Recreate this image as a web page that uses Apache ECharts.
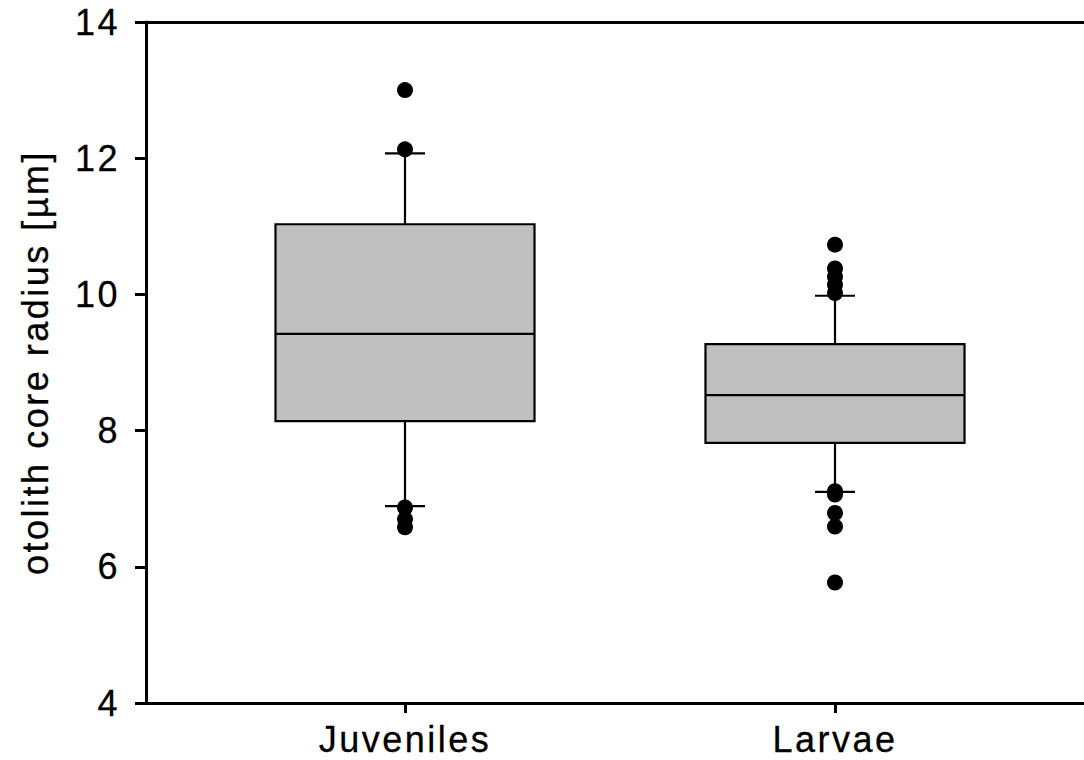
<!DOCTYPE html>
<html>
<head>
<meta charset="utf-8">
<script src="https://cdn.jsdelivr.net/npm/echarts@6/dist/echarts.min.js"></script>
<style>
  html, body { margin: 0; padding: 0; background: #fff; }
  #chart { width: 1084px; height: 760px; }
  /* slightly open letter spacing for all chart text */
  #chart text { letter-spacing: 2.5px; }
</style>
</head>
<body>
<div id="chart"></div>
<script>
// Groups on the category axis
const categories = ['Juveniles', 'Larvae'];

// Box statistics per group: [lower whisker, Q1, median, Q3, upper whisker]
const juvenilesBox = [6.89, 8.14, 9.42, 11.03, 12.07];
const larvaeBox = [7.10, 7.82, 8.52, 9.27, 9.98];

// Points drawn outside the whiskers
const juvenilesOutliers = [13.0, 12.13, 6.87, 6.70, 6.58];
const larvaeOutliers = [10.73, 10.38, 10.26, 10.14, 10.02, 7.11, 7.06, 6.79, 6.59, 5.77];

// Value axis
const yMin = 4;
const yMax = 14;
const yStep = 2;
const yTitle = 'otolith core radius [µm]';

const boxes = [juvenilesBox, larvaeBox];
const outliers = [juvenilesOutliers, larvaeOutliers];

const boxData = boxes.map((b, i) => [i].concat(b));
const outlierData = [];
outliers.forEach((list, i) => list.forEach(v => outlierData.push([i, v])));

const FONT = '"Liberation Sans", Arial, Helvetica, sans-serif';
const LINE = '#000';
const TEXT = { color: '#000', fontSize: 36, fontFamily: FONT, textBorderColor: '#000', textBorderWidth: 0.3 };

function renderBox(params, api) {
  const idx = api.value(0);
  const lo = api.coord([idx, api.value(1)]);
  const q1 = api.coord([idx, api.value(2)]);
  const med = api.coord([idx, api.value(3)]);
  const q3 = api.coord([idx, api.value(4)]);
  const hi = api.coord([idx, api.value(5)]);
  const band = api.size([1, 0])[0];
  const halfBox = band * 0.3012;
  const halfCap = 20;
  const x = lo[0];
  const lineStyle = { stroke: LINE, lineWidth: 2.2, fill: null };
  return {
    type: 'group',
    children: [
      { type: 'line', shape: { x1: x, y1: q3[1], x2: x, y2: hi[1] }, style: lineStyle },
      { type: 'line', shape: { x1: x, y1: q1[1], x2: x, y2: lo[1] }, style: lineStyle },
      { type: 'line', shape: { x1: x - halfCap, y1: hi[1], x2: x + halfCap, y2: hi[1] }, style: lineStyle },
      { type: 'line', shape: { x1: x - halfCap, y1: lo[1], x2: x + halfCap, y2: lo[1] }, style: lineStyle },
      {
        type: 'rect',
        shape: { x: x - halfBox, y: q3[1], width: halfBox * 2, height: q1[1] - q3[1] },
        style: { fill: '#c0c0c0', stroke: LINE, lineWidth: 2.2 }
      },
      { type: 'line', shape: { x1: x - halfBox, y1: med[1], x2: x + halfBox, y2: med[1] }, style: lineStyle }
    ]
  };
}

const chart = echarts.init(document.getElementById('chart'), null, { renderer: 'svg' });

chart.setOption({
  animation: false,
  backgroundColor: '#fff',
  grid: [
    // frame: left axis, bottom and top lines
    { left: 146, right: -30, top: 22, bottom: 57 },
    // data area: two category bands
    { left: 190, right: 34, top: 22, bottom: 57 }
  ],
  xAxis: [
    {
      gridIndex: 0, type: 'value', min: 0, max: 1, position: 'bottom',
      axisLine: { show: true, onZero: false, lineStyle: { color: LINE, width: 3 } },
      axisTick: { show: false }, axisLabel: { show: false }, splitLine: { show: false }
    },
    {
      gridIndex: 0, type: 'value', min: 0, max: 1, position: 'top',
      axisLine: { show: true, onZero: false, lineStyle: { color: LINE, width: 3 } },
      axisTick: { show: false }, axisLabel: { show: false }, splitLine: { show: false }
    },
    {
      gridIndex: 1, type: 'category', data: categories, position: 'bottom',
      axisLine: { show: false },
      axisTick: { show: true, alignWithLabel: true, length: 10, lineStyle: { color: LINE, width: 3 } },
      axisLabel: Object.assign({ margin: 18 }, TEXT),
      splitLine: { show: false }
    }
  ],
  yAxis: [
    {
      gridIndex: 0, type: 'value', min: yMin, max: yMax, interval: yStep,
      axisLine: { show: true, onZero: false, lineStyle: { color: LINE, width: 3 } },
      axisTick: { show: true, inside: false, length: 11, lineStyle: { color: LINE, width: 3 } },
      axisLabel: Object.assign({ margin: 26 }, TEXT),
      splitLine: { show: false },
      name: yTitle,
      nameLocation: 'middle',
      nameRotate: 90,
      nameGap: 93,
      nameTextStyle: TEXT
    },
    {
      gridIndex: 1, type: 'value', min: yMin, max: yMax, interval: yStep, show: false
    }
  ],
  series: [
    {
      type: 'custom',
      xAxisIndex: 2, yAxisIndex: 1,
      renderItem: renderBox,
      encode: { x: 0, y: [1, 2, 3, 4, 5] },
      data: boxData,
      z: 2
    },
    {
      type: 'scatter',
      xAxisIndex: 2, yAxisIndex: 1,
      symbol: 'circle',
      symbolSize: 16,
      itemStyle: { color: '#000', opacity: 1 },
      data: outlierData,
      z: 3
    }
  ]
});
</script>
</body>
</html>
